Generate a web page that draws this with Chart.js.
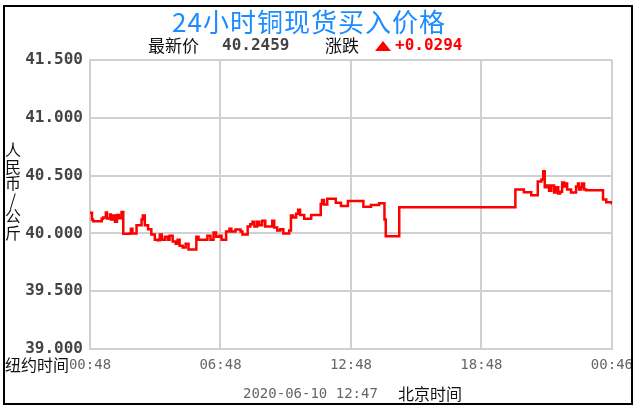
<!DOCTYPE html>
<html>
<head>
<meta charset="utf-8">
<script src="https://cdn.jsdelivr.net/npm/chart.js@4/dist/chart.umd.min.js"></script>
<style>
  body { margin: 0; background: #fff; }
  canvas { display: block; }
</style>
</head>
<body>
<canvas id="myChart" width="641" height="413"></canvas>
<script>
// hours since 00:48 (New York time) and copper spot bid price
const hours = [
  0, 0.09, 0.14, 0.46, 0.54, 0.60, 0.73, 0.78, 0.92, 0.96,
  1.05, 1.15, 1.24, 1.33, 1.45, 1.53, 1.83, 1.88, 1.95, 2.14,
  2.37, 2.43, 2.52, 2.67, 2.82, 2.98, 3.11, 3.21, 3.30, 3.44,
  3.57, 3.66, 3.80, 3.94, 4.03, 4.12, 4.26, 4.40, 4.53, 4.72,
  4.89, 4.99, 5.27, 5.40, 5.54, 5.68, 5.80, 5.95, 6.05, 6.26,
  6.41, 6.50, 6.69, 6.92, 7.01, 7.19, 7.25, 7.37, 7.47, 7.56,
  7.69, 7.79, 7.92, 8.06, 8.24, 8.38, 8.47, 8.61, 8.75, 8.89,
  9.07, 9.16, 9.24, 9.34, 9.48, 9.57, 9.66, 9.85, 10.03, 10.17,
  10.44, 10.61, 10.67, 10.76, 10.91, 11.18, 11.30, 11.54, 11.73, 11.86,
  12.55, 12.57, 12.90, 12.92, 13.28, 13.30, 13.51, 13.54, 13.59, 13.60,
  14.20, 14.22, 19.54, 19.56, 19.92, 19.95, 20.27, 20.29, 20.58, 20.59,
  20.76, 20.84, 20.91, 21.02, 21.11, 21.21, 21.34, 21.44, 21.53, 21.62,
  21.71, 21.80, 21.89, 21.94, 22.12, 22.31, 22.35, 22.44, 22.49, 22.58,
  22.63, 22.72, 22.81, 23.50, 23.59, 23.74, 24.0
];
const prices = [
  40.178, 40.12, 40.105, 40.105, 40.126, 40.137, 40.18, 40.128, 40.163, 40.12,
  40.155, 40.10, 40.16, 40.13, 40.185, 39.998, 40.0, 40.04, 40.0, 40.07,
  40.12, 40.155, 40.07, 40.035, 39.99, 39.946, 39.94, 39.99, 39.946, 39.97,
  39.946, 39.98, 39.93, 39.91, 39.946, 39.894, 39.877, 39.91, 39.86, 39.86,
  39.97, 39.946, 39.946, 39.98, 39.946, 40.007, 39.97, 39.98, 39.946, 40.016,
  40.04, 40.016, 40.033, 40.016, 39.99, 39.99, 40.06, 40.08, 40.10, 40.06,
  40.10, 40.07, 40.11, 40.06, 40.06, 40.11, 40.05, 40.025, 40.035, 40.0,
  40.0, 40.025, 40.155, 40.137, 40.17, 40.205, 40.16, 40.126, 40.126, 40.16,
  40.16, 40.255, 40.29, 40.25, 40.30, 40.30, 40.265, 40.237, 40.237, 40.28,
  40.28, 40.23, 40.23, 40.245, 40.25, 40.26, 40.26, 40.12, 40.12, 39.975,
  39.975, 40.227, 40.227, 40.38, 40.38, 40.357, 40.357, 40.33, 40.33, 40.45,
  40.467, 40.537, 40.40, 40.415, 40.37, 40.415, 40.354, 40.40, 40.345, 40.36,
  40.44, 40.406, 40.432, 40.38, 40.354, 40.354, 40.406, 40.432, 40.38, 40.40,
  40.432, 40.38, 40.374, 40.374, 40.293, 40.27, 40.25
];
const xTickLabels = ["00:48", "06:48", "12:48", "18:48", "00:46"];
const title = "24小时铜现货买入价格";
const latestPrice = "40.2459";
const change = "+0.0294";
const updated = "2020-06-10 12:47";

const mono = "'DejaVu Sans Mono', monospace";
const cjk = "'Noto Sans CJK SC', sans-serif";

function txt(ctx, s, x, y, font, color, align) {
  ctx.font = font;
  ctx.fillStyle = color;
  ctx.textAlign = align || "left";
  ctx.textBaseline = "middle";
  ctx.fillText(s, x, y);
}

const decor = {
  id: "decor",
  beforeDraw(chart) {
    const ctx = chart.ctx;
    ctx.save();
    ctx.fillStyle = "#fff";
    ctx.fillRect(0, 0, chart.width, chart.height);
    ctx.restore();
  },
  afterDraw(chart) {
    const ctx = chart.ctx;
    ctx.save();
    // title
    ctx.letterSpacing = "1px";
    txt(ctx, title, 309, 22, "26px " + cjk, "#1a8cff", "center");
    ctx.letterSpacing = "0px";
    // latest price line
    txt(ctx, "最新价", 148, 46, "17px " + cjk, "#111");
    txt(ctx, latestPrice, 222, 46, "bold 16px " + mono, "#444");
    txt(ctx, "涨跌", 325, 46, "17px " + cjk, "#111");
    ctx.fillStyle = "#ff0000";
    ctx.beginPath();
    ctx.moveTo(375, 51);
    ctx.lineTo(391, 51);
    ctx.lineTo(383, 41);
    ctx.closePath();
    ctx.fill();
    txt(ctx, change, 395, 46, "bold 16px " + mono, "#ff0000");
    // y axis title, stacked characters
    const yt = ["人", "民", "币", "/", "公", "斤"];
    yt.forEach((c, i) => txt(ctx, c, 13, 150 + i * 16.5, "16px " + cjk, "#111", "center"));
    txt(ctx, "纽约时间", 5, 365, "16px " + cjk, "#111");
    // bottom line
    txt(ctx, updated, 243, 394, "14px " + mono, "#666");
    txt(ctx, "北京时间", 398, 394, "16px " + cjk, "#111");
    // outer frame
    ctx.fillStyle = "#fff";
    ctx.fillRect(633, 0, chart.width - 633, chart.height);
    ctx.strokeStyle = "#000";
    ctx.lineWidth = 2;
    ctx.strokeRect(4, 6, 628, 398);
    ctx.restore();
  }
};

const ctx = document.getElementById("myChart").getContext("2d");
let chart = new Chart(ctx, {
  type: "line",
  data: {
    datasets: [
      {
        label: "铜",
        data: hours.map((h, i) => ({ x: h, y: prices[i] })),
        borderColor: "#ff0000",
        borderWidth: 2.5,
        pointRadius: 0,
        stepped: true,
      },
    ],
  },
  options: {
    responsive: false,
    animation: false,
    layout: { padding: { top: 60, right: 27, left: 0, bottom: 0 } },
    plugins: { legend: { display: false }, tooltip: { enabled: false } },
    scales: {
      x: {
        type: "linear",
        min: 0,
        max: 24,
        afterFit: (s) => { s.height = 64; },
        ticks: {
          stepSize: 6,
          padding: 8,
          color: "#666",
          font: { family: mono, size: 14 },
          maxRotation: 0,
          callback: (v) => xTickLabels[v / 6],
        },
        grid: { color: "#d0d0d0", lineWidth: 2, drawTicks: false },
        border: { color: "#d0d0d0", width: 2 },
      },
      y: {
        min: 39,
        max: 41.5,
        afterFit: (s) => { s.width = 90; },
        ticks: {
          stepSize: 0.5,
          padding: 7,
          color: "#444",
          font: { family: mono, size: 16, weight: "bold" },
          callback: (v) => v.toFixed(3),
        },
        grid: { color: "#d0d0d0", lineWidth: 2, drawTicks: false },
        border: { color: "#d0d0d0", width: 2 },
      },
    },
  },
  plugins: [decor],
});
</script>
</body>
</html>
